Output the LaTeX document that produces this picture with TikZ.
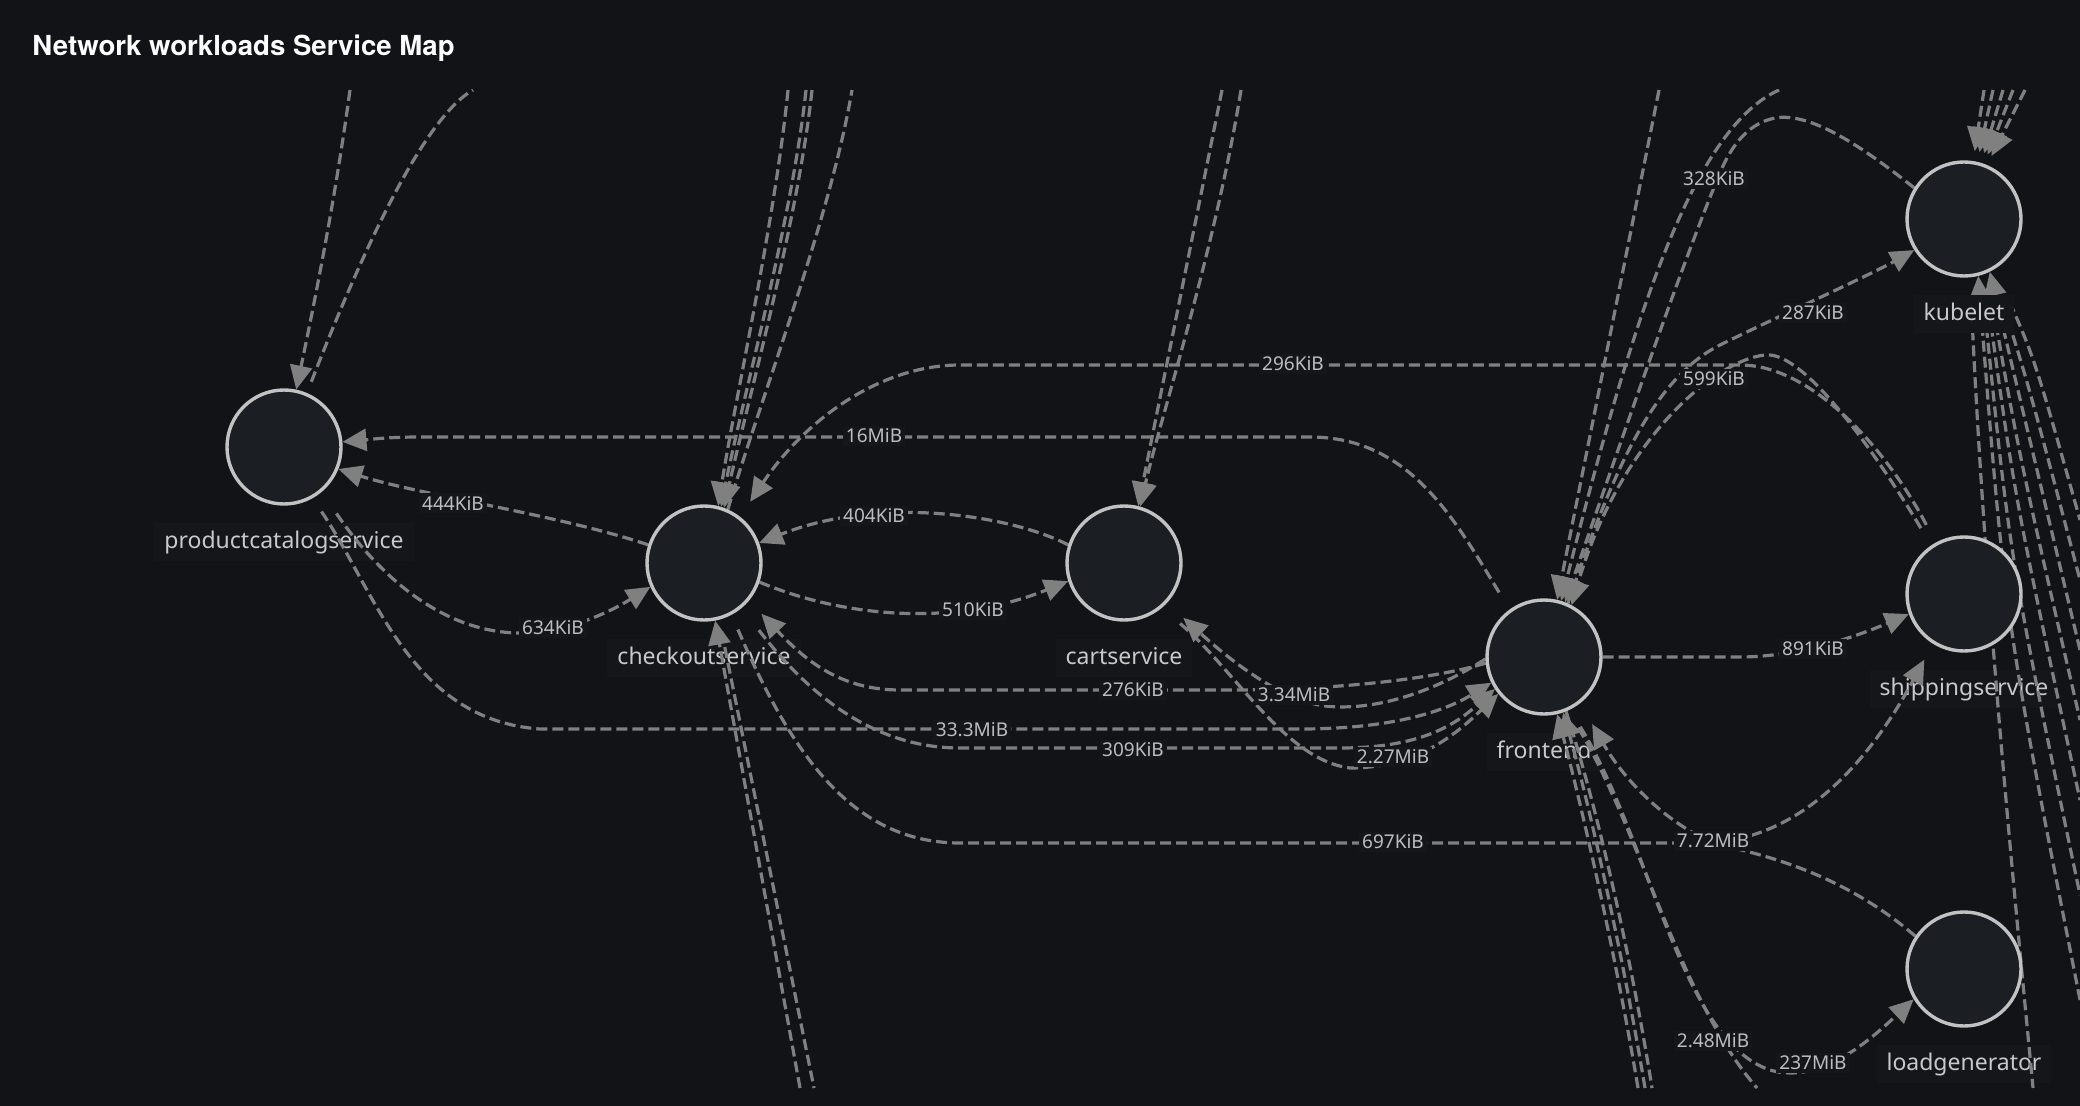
\documentclass[tikz,border=0pt]{standalone}
\usepackage{fontspec}
\setmainfont{Noto Sans}
\newfontfamily\headfont{TeX Gyre Heros}
\usetikzlibrary{positioning, arrows.meta}

\definecolor{canvas}{HTML}{111317}
\definecolor{nodefill}{HTML}{1B1E22}
\definecolor{ring}{HTML}{C2C2C2}
\definecolor{wire}{HTML}{808080}
\definecolor{tagbg}{HTML}{14161A}
\definecolor{tagtext}{HTML}{BDBDBD}
\definecolor{nametext}{HTML}{C9C9C9}

\pgfdeclarelayer{backdrop}
\pgfdeclarelayer{names}
\pgfdeclarelayer{wires}
\pgfsetlayers{backdrop,names,wires,main}

\begin{document}
\begin{tikzpicture}[
    x=0.5pt, y=-0.5pt,
    svc/.style={circle, draw=ring, line width=1.7pt, fill=nodefill,
                minimum size=57pt, inner sep=0pt},
    svcname/.style={fill=tagbg, text=nametext, font=\fontsize{11.5}{13}\selectfont,
                inner xsep=5pt, inner ysep=4pt, text height=8.5pt, text depth=2.5pt},
    rate/.style={fill=tagbg, text=tagtext, font=\fontsize{9.5}{11}\selectfont, inner sep=1.5pt},
    link/.style={wire, line width=1.6pt, dash pattern=on 5.5pt off 2.5pt},
    flow/.style={link, -{Triangle[length=12pt, width=11pt]}},
]

% Canvas
\begin{pgfonlayer}{backdrop}
\fill[canvas] (0,0) rectangle (2080,1106);
\end{pgfonlayer}
\useasboundingbox (0,0) rectangle (2080,1106);

% Title
\node[anchor=base west, inner sep=0pt, text=white, font=\headfont\bfseries\fontsize{13.8}{16}\selectfont]
    (title) at (32,56) {Network workloads Service Map};

% Services
\node[svc] (pcs)      at (284,447)  {};
\node[svc] (checkout) at (704,563)  {};
\node[svc] (cart)     at (1124,563) {};
\node[svc] (frontend) at (1544,657) {};
\node[svc] (kubelet)  at (1964,219) {};
\node[svc] (shipping) at (1964,594) {};
\node[svc] (loadgen)  at (1964,969) {};

\begin{pgfonlayer}{names}
\node[svcname, below=8.5pt of pcs]      (pcsname)      {productcatalogservice};
\node[svcname, below=8.5pt of checkout] (checkoutname) {checkoutservice};
\node[svcname, below=8.5pt of cart]     (cartname)     {cartservice};
\node[svcname, below=8.5pt of frontend] (frontendname) {frontend};
\node[svcname, below=8.5pt of shipping] (shippingname) {shippingservice};
\node[svcname, below=8.5pt of loadgen]  (loadgenname)  {loadgenerator};
\end{pgfonlayer}
\node[svcname, below=8.5pt of kubelet]  (kubeletname)  {kubelet};

% Free ends at the map border
\coordinate (pcsTopIn)  at (350,90);
\coordinate (pcsTopOut) at (473,90);
\coordinate (coTopA) at (788,90);
\coordinate (coTopB) at (806,90);
\coordinate (coTopC) at (812,90);
\coordinate (coTopD) at (852,90);
\coordinate (caTopA) at (1222,90);
\coordinate (caTopB) at (1241,90);
\coordinate (feTopA) at (1659,90);
\coordinate (feTopB) at (1779,90);
\coordinate (kuTopA) at (1984,90);
\coordinate (kuTopB) at (1993,90);
\coordinate (kuTopC) at (2003,90);
\coordinate (kuTopD) at (2013,90);
\coordinate (kuTopE) at (2025,90);
\coordinate (coBotA) at (800,1088);
\coordinate (coBotB) at (814,1088);
\coordinate (feBotA) at (1638,1088);
\coordinate (feBotB) at (1645,1088);
\coordinate (feBotC) at (1652,1088);
\coordinate (feBotOut) at (1757,1088);
\coordinate (kuBot) at (2033,1088);
\coordinate (kuR1) at (2080,1000);
\coordinate (kuR2) at (2080,895);
\coordinate (kuR3) at (2080,800);
\coordinate (kuR4) at (2080,720);
\coordinate (kuR5) at (2080,650);
\coordinate (kuR6) at (2080,580);
\coordinate (kuR7) at (2080,520);

% Rates
\node[rate] (r328) at (1714,179)  {328KiB};
\node[rate] (r287) at (1813,313)  {287KiB};
\node[rate] (r296) at (1293,364)  {296KiB};
\node[rate] (r599) at (1714,379)  {599KiB};
\node[rate] (r16)  at (874,436)   {16MiB};
\node[rate] (r444) at (453,503)   {444KiB};
\node[rate] (r404) at (874,516)   {404KiB};
\node[rate] (r510) at (973,610)   {510KiB};
\node[rate] (r634) at (553,628)   {634KiB};
\node[rate] (r891) at (1813,649)  {891KiB};
\node[rate] (r276) at (1133,690)  {276KiB};
\node[rate] (r334) at (1294,695)  {3.34MiB};
\node[rate] (r333) at (972,730)   {33.3MiB};
\node[rate] (r309) at (1133,750)  {309KiB};
\node[rate] (r227) at (1393,757)  {2.27MiB};
\node[rate] (r697) at (1393,842)  {697KiB};
\node[rate] (r772) at (1713,841)  {7.72MiB};
\node[rate] (r248) at (1713,1041) {2.48MiB};
\node[rate] (r237) at (1813,1063) {237MiB};

\begin{pgfonlayer}{wires}
\begin{scope}
\clip (0,90) rectangle (2080,1088);

% === Off-map traffic ===
\draw[flow] (pcsTopIn) .. controls (335,200) and (315,300) .. (pcs.78);
\draw[link, shorten <=6pt] (pcs.67) .. controls (355,270) and (420,120) .. (pcsTopOut);

\draw[flow] (coTopA) .. controls (775,220) and (735,400) .. (checkout.76);
\draw[flow] (coTopB) .. controls (792,220) and (742,400) .. (checkout.73);
\draw[flow] (coTopC) .. controls (798,220) and (748,400) .. (checkout.70);
\draw[link] (checkout.66) .. controls (760,400) and (830,220) .. (coTopD);
\draw[flow] (coBotA) -- (checkout.-79);
\draw[link, shorten <=6pt] (checkout.-75) -- (coBotB);

\draw[flow] (caTopA) -- (cart.76);
\draw[flow] (caTopB) .. controls (1215,250) and (1160,420) .. (cart.74);

\draw[flow] (feTopA) -- (frontend.77);
\draw[flow] (feTopB) .. controls (1690,130) and (1630,330) .. (frontend.73);
\draw[flow] (feBotA) .. controls (1615,950) and (1580,800) .. (frontend.-77);
\draw[flow] (feBotB) .. controls (1622,950) and (1588,800) .. (frontend.-71);
\draw[link] (frontend.-68) .. controls (1595,800) and (1630,950) .. (feBotC);
\draw[link, shorten <=10pt] (frontend.-66) .. controls (1640,830) and (1680,1000) .. (feBotOut);

\foreach \c/\a in {kuTopA/81, kuTopB/77, kuTopC/73, kuTopD/70, kuTopE/67}
    \draw[flow, shorten >=5pt] (\c) -- (kubelet.\a);

\draw[link, shorten <=18pt] (kubelet.-84) .. controls (1985,600) and (2015,900) .. (kuBot);
\draw[flow] (kuR1) .. controls (2005,620) .. (kubelet.-76);
\foreach \c/\a/\cx/\cy in {kuR2/-73/2010/560, kuR3/-70/2015/500, kuR4/-67/2020/460,
                           kuR6/-61/2030/390, kuR7/-58/2035/360}
    \draw[link, shorten <=18pt] (kubelet.\a) .. controls (\cx,\cy) .. (\c);
\draw[flow] (kuR5) .. controls (2025,420) .. (kubelet.-64);

% === Between services ===
\draw[flow] (kubelet.148) .. controls (1860,145) and (1810,112) .. (1775,118)
    .. controls (1745,124) and (1728,150) .. (1715,185)
    .. controls (1680,270) and (1618,450) .. (frontend.69);
\draw[flow] (frontend.66) .. controls (1610,480) and (1650,380) .. (1720,345)
    .. controls (1760,325) and (1870,275) .. (kubelet.212);

\draw[flow, shorten <=10pt] (shipping.124) .. controls (1880,460) and (1805,350) .. (1765,355)
    .. controls (1715,360) and (1620,440) .. (frontend.62);
\draw[flow, shorten <=10pt, shorten >=9pt] (shipping.119) .. controls (1890,455) and (1815,365) .. (1740,365)
    -- (960,365) .. controls (880,365) and (805,420) .. (checkout.52);

\draw[flow, shorten <=10pt] (frontend.126) .. controls (1455,520) and (1410,437) .. (1310,437)
    -- (420,437) .. controls (385,437) and (365,440) .. (pcs.5);

\draw[flow] (checkout.162) .. controls (560,515) and (420,495) .. (pcs.-22);
\draw[flow, shorten <=13pt] (pcs.-50) .. controls (375,570) and (440,635) .. (525,633)
    .. controls (570,631) and (610,612) .. (checkout.204);
\draw[flow, shorten <=8pt] (pcs.-61) .. controls (375,590) and (410,720) .. (540,729)
    -- (1300,729) .. controls (1400,729) and (1450,708) .. (frontend.206);

\draw[flow] (cart.162) .. controls (1010,515) and (880,495) .. (checkout.20);
\draw[flow] (checkout.-19) .. controls (850,620) and (960,625) .. (cart.198);

\draw[flow, shorten >=9pt] (frontend.186) .. controls (1430,680) and (1330,690) .. (1230,690)
    -- (900,690) .. controls (840,690) and (805,660) .. (checkout.-40);
\draw[flow, shorten <=14pt] (checkout.-50) .. controls (805,690) and (870,748) .. (960,748)
    -- (1340,748) .. controls (1420,748) and (1455,725) .. (frontend.213);

\draw[flow, shorten >=11pt] (frontend.182) .. controls (1440,688) and (1380,712) .. (1325,706)
    .. controls (1280,700) and (1230,660) .. (cart.-43);
\draw[flow, shorten <=12pt] (cart.-50) .. controls (1235,670) and (1285,760) .. (1350,768)
    .. controls (1420,768) and (1460,730) .. (frontend.219);

\draw[flow, shorten <=8pt, shorten >=9pt] (checkout.-62) .. controls (790,750) and (850,843) .. (960,843)
    -- (1700,843) .. controls (1800,843) and (1870,760) .. (shipping.238);

\draw[flow, shorten >=12pt] (loadgen.146) .. controls (1850,880) and (1780,858) .. (1720,845)
    .. controls (1680,832) and (1630,790) .. (frontend.-52);
\draw[flow] (frontend.0) -- (1740,657) .. controls (1800,657) and (1860,635) .. (shipping.200);
\draw[flow, shorten <=10pt] (frontend.-64) .. controls (1650,840) and (1680,1040) .. (1770,1070)
    .. controls (1820,1085) and (1870,1040) .. (loadgen.211);

\end{scope}
\end{pgfonlayer}

\end{tikzpicture}
\end{document}
